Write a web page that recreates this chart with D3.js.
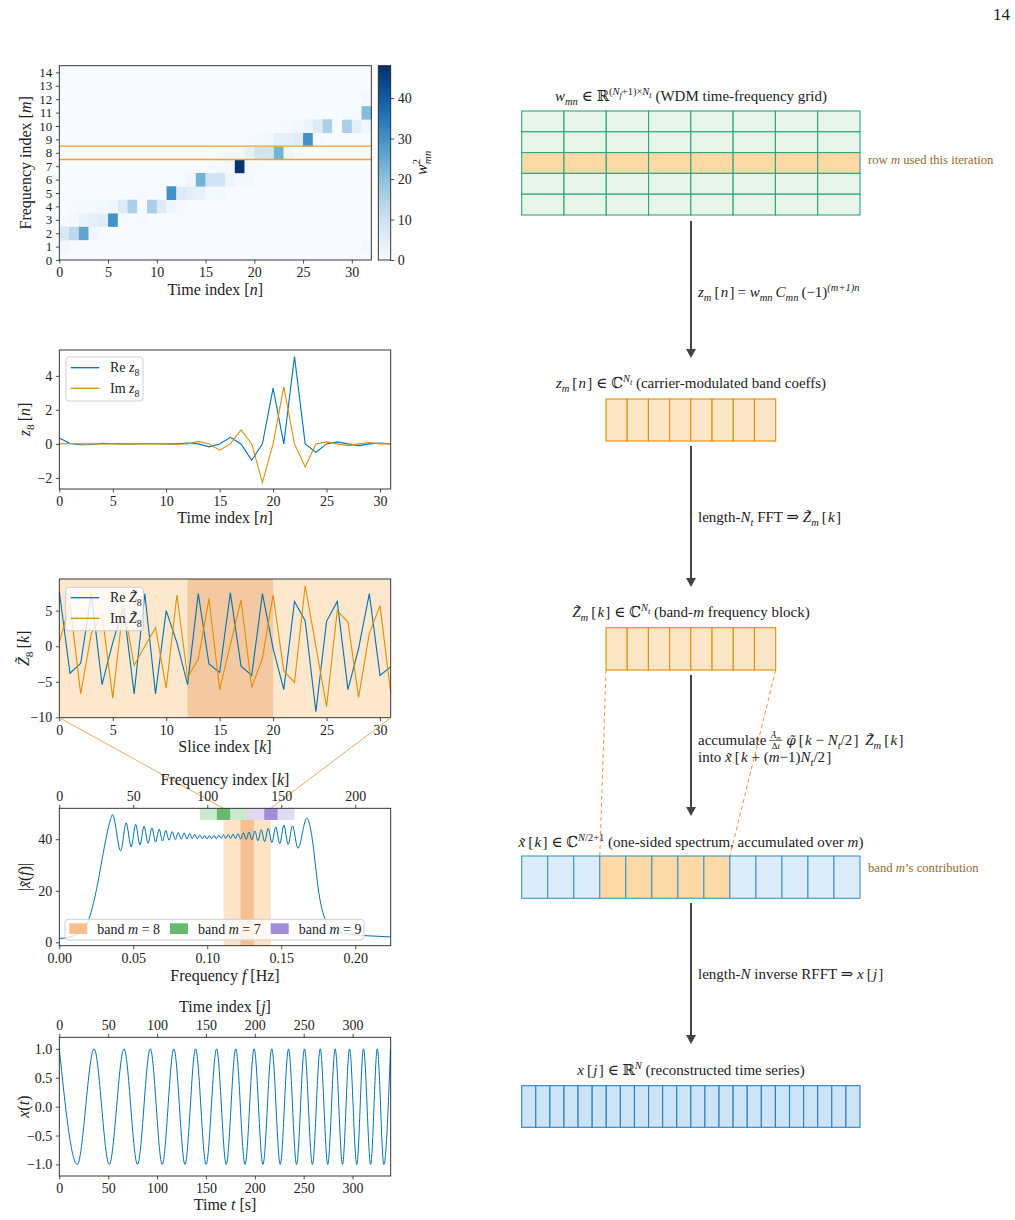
<!DOCTYPE html>
<html>
<head>
<meta charset="utf-8">
<script src="https://cdn.jsdelivr.net/npm/d3@7"></script>
<style>
  body { margin: 0; background: #fff; }
  text { font-family: "Liberation Serif", "DejaVu Serif", serif; }
</style>
</head>
<body>
<svg id="fig" width="1015" height="1220"></svg>
<script>
// ---- data ----
// WDM power w_mn^2 : [n, m, value] (all other cells ~0)
const heatCells = [
  [0,1,1.5],[31,1,1.0],
  [0,2,7],[1,2,13],[2,2,26],[3,2,2],[4,2,0.5],
  [1,3,1],[2,3,3.5],[3,3,4.5],[4,3,5.5],[5,3,30],[6,3,0.8],[8,3,0.8],
  [1,4,0.5],[2,4,0.8],[3,4,1],[4,4,1],[5,4,2],[6,4,6],[7,4,16],[8,4,0.3],[9,4,16],[10,4,6],[11,4,2],[12,4,0.8],
  [8,5,0.5],[11,5,30],[12,5,6],[13,5,4.5],[14,5,3.5],[15,5,1],[16,5,1],
  [12,6,0.5],[13,6,2],[14,6,23],[15,6,9],[16,6,9],[17,6,3],[18,6,1],[19,6,1],
  [15,7,0.5],[16,7,0.8],[17,7,1.5],[18,7,47.5],[19,7,1],[20,7,0.5],
  [16,8,0.5],[17,8,1],[18,8,1],[19,8,4],[20,8,9],[21,8,9],[22,8,23],[23,8,2],[24,8,0.5],
  [19,9,0.5],[20,9,0.8],[21,9,1.5],[22,9,4],[23,9,4.5],[24,9,5.5],[25,9,30],[26,9,0.8],
  [22,10,0.5],[23,10,0.8],[24,10,1.5],[25,10,2.5],[26,10,6],[27,10,16],[28,10,0.3],[29,10,16],[30,10,5],[31,10,2],
  [29,11,0.5],[30,11,0.5],[31,11,21],
  [31,12,1]
];
const heatXTicks = [0, 5, 10, 15, 20, 25, 30];
const heatYTicks = d3.range(0, 15);
const cbarTicks = [0, 10, 20, 30, 40];

// z_8[n]
const zRe = [0.35,0.02,-0.05,-0.03,0.03,0.01,0,0,0.01,0.01,0,0,0.05,0,-0.17,0,0.39,0,-0.96,0,3.28,0,5.14,0,-0.49,0,0.12,0,-0.1,0,0.05,0];
const zIm = [0,0.02,0,0,0,0,0,0,0,0,0,-0.02,0,0.15,0,-0.37,0,0.82,0,-2.27,0,3.35,0,-1.35,0,0.12,0,-0.1,0,0.08,0,0];

// Z~_8[k]
const ZRe = [7.7,-3.8,-2.4,7.4,-5.4,0.5,5.6,-6.7,7.4,-6.7,5.0,0.5,-5.4,7.4,-2.5,-3.7,7.5,-2.8,-4.1,7.4,-0.3,-6.1,6.3,3.6,-9.2,3.5,6.3,-6.1,-0.3,7.4,-4.1,-2.9];
const ZIm = [0.5,6.0,-6.7,1.8,4.5,-7.3,5.8,-2.7,0.0,2.6,-5.9,7.2,-4.4,-1.8,6.7,-6.1,0.2,6.5,-5.8,-1.7,7.2,-3.5,-5.1,8.5,0.0,-8.5,5.0,3.4,-7.2,1.8,5.7,-6.5];
const ZCore = [12, 20];

// |x~(f)| : frequency index k and magnitude, read at extrema and along the edges
const specK = [0,5,10,14,17,20,23,26,29,32,34,36,
  41.5,45.2,48.6,51.6,54.5,57.3,60.0,62.6,65.1,67.5,69.8,72.0,74.2,76.3,78.4,80.4,82.4,84.4,86.3,88.1,89.9,91.6,93.3,95.0,96.6,98.2,99.8,
  101.4,103.0,104.6,106.2,107.8,109.4,111.0,112.6,114.2,115.8,117.4,119.1,120.8,122.6,124.4,126.3,128.2,130.2,132.2,134.3,136.5,138.8,141.2,143.7,146.3,149.0,151.8,154.7,157.6,161.3,167.3,
  169.5,171.5,173.5,175.5,177.5,180,183,187,192,200,210,224];
const specV = [1.5,1.8,2.6,3.8,5.5,9,15,23,32.5,41.5,46.5,49.5,
  35.5,46.3,37.0,45.8,37.8,45.0,38.4,44.4,38.9,43.9,39.3,43.4,39.6,43.0,39.8,42.7,40.0,42.4,40.1,42.2,40.2,41.9,40.2,41.7,40.2,41.5,40.1,
  41.4,40.2,41.5,40.2,41.6,40.3,41.7,40.3,41.8,40.3,42.0,40.2,42.2,40.1,42.5,39.9,42.8,39.7,43.2,39.4,43.7,39.1,44.2,38.7,44.8,38.3,45.5,38.0,45.2,36.5,48.2,
  45,38,28,19,13,8.5,6,4.5,3.6,2.9,2.5,2.1];
// bands: [label m, centre k], full half-width 16, core half-width 4.5
const bandCentres = [[8, 127], [7, 111], [9, 143]];
const bandHalf = 16, coreHalf = 4.5;
const specFTicks = [0, 0.05, 0.10, 0.15, 0.20];
const specKTicks = [0, 50, 100, 150, 200];

// x(t): times of successive extrema and their values
const xtT = [0,18.4,35.6,51.1,66.2,80.0,93.1,105.3,117.2,128.6,139.4,150.2,160.9,170.8,180.5,190.0,199.3,208.3,217.4,226.0,234.5,242.7,250.8,258.9,266.9,274.6,282.2,289.7,296.9,304.3,311.2,318.5,325.3,332.0,338.8];
const xtV = [1,-1,1,-1,1,-1,1,-1,1,-1,1,-1,1,-1,1,-1,1,-1,1,-1,1,-1,1,-1,1,-1,1,-1,1,-1,1,-1,1,-1,1];
const tTicks = [0, 50, 100, 150, 200, 250, 300];

// diagram cells
const gridCols = 8, gridRows = 5, activeRow = 2;
const blockCells = 8;
const specCells = 13, bandCells = [3, 4, 5, 6, 7];
const timeCells = 24;

// ---- drawing ----
const FONT = '"Liberation Serif","DejaVu Serif",serif';
const INK = "#222";
const BLUE = "#0173B2", ORANGE = "#DE8F05";
const TICK = 14, LAB = 16, RT = 15;
const TS = "\u2009", HS = "\u200A"; // thin / hair spaces for math spacing
const svg = d3.select("#fig");
svg.append("rect").attr("width", 1015).attr("height", 1220).attr("fill", "#fff");

function rich(parent, x, y, segs, o = {}) {
  const size = o.size || RT;
  const t = parent.append("text")
    .attr("x", x).attr("y", y)
    .attr("font-size", size)
    .attr("fill", o.fill || INK)
    .attr("text-anchor", o.anchor || "start")
    .style("white-space", "pre");
  if (o.rotate) t.attr("transform", `rotate(-90,${x},${y})`);
  const lv = { "": [0, 1], b: [0.28, 0.7], p: [-0.42, 0.7], q: [-0.22, 0.55] };
  let cur = 0;
  segs.forEach(([s, st = "", dx]) => {
    const key = st.includes("q") ? "q" : st.includes("b") ? "b" : st.includes("p") ? "p" : "";
    const [off, sc] = lv[key];
    const ts = t.append("tspan").text(s)
      .attr("dy", ((off - cur) * size).toFixed(2))
      .attr("font-size", size * sc);
    if (dx) ts.attr("dx", dx);
    cur = off;
    if (st.includes("i")) ts.attr("font-style", "italic");
    if (st.includes("d")) ts.attr("font-family", '"DejaVu Serif",serif').attr("font-size", size * sc * 0.9);
  });
  return t;
}

function axis(gen, tx, ty, size = TICK) {
  const g = svg.append("g").attr("transform", `translate(${tx},${ty})`)
    .call(gen.tickSize(3.5).tickPadding(3.5));
  g.attr("font-family", FONT).attr("font-size", size);
  g.select(".domain").remove();
  g.selectAll(".tick line").attr("stroke", INK).attr("stroke-width", 0.8);
  g.selectAll(".tick text").attr("fill", INK);
  return g;
}

function frame(x0, y0, x1, y1) {
  svg.append("rect").attr("x", x0).attr("y", y0).attr("width", x1 - x0).attr("height", y1 - y0)
    .attr("fill", "none").attr("stroke", INK).attr("stroke-width", 0.9);
}

const L = 59.3, R = 390.7;

// Panel 1: heatmap
{
  const T = 65.7, B = 260, HR = 371.3;
  const x = d3.scaleLinear().domain([0, 32]).range([L, HR]);
  const y = d3.scaleLinear().domain([0, 14.5]).range([B, T]);
  const color = d3.scaleSequential(d3.interpolateBlues).domain([0, 48]);
  svg.append("rect").attr("x", L).attr("y", T).attr("width", HR - L).attr("height", B - T).attr("fill", color(0));
  svg.append("g").selectAll("rect").data(heatCells).join("rect")
    .attr("x", d => x(d[0])).attr("width", d => x(d[0] + 1) - x(d[0]) + 0.3)
    .attr("y", d => y(d[1] + 0.5)).attr("height", d => y(d[1] - 0.5) - y(d[1] + 0.5) + 0.3)
    .attr("fill", d => color(d[2]));
  [7.5, 8.5].forEach(v => svg.append("line").attr("x1", L).attr("x2", HR).attr("y1", y(v)).attr("y2", y(v))
    .attr("stroke", "#f7a21e").attr("stroke-width", 1.4));
  frame(L, T, HR, B);
  axis(d3.axisBottom(x).tickValues(heatXTicks).tickFormat(d3.format("d")), 0, B);
  axis(d3.axisLeft(y).tickValues(heatYTicks).tickFormat(d3.format("d")), L, 0, 13);
  rich(svg, (L + HR) / 2, 295, [["Time index [", ""], ["n", "i"], ["]", ""]], { size: LAB, anchor: "middle" });
  rich(svg, 31, (T + B) / 2, [["Frequency index [", ""], ["m", "i"], ["]", ""]], { size: LAB, anchor: "middle", rotate: true });

  // colorbar
  const cx0 = 378.3, cx1 = 390.7;
  const cy = d3.scaleLinear().domain([0, 48]).range([B, T]);
  const grad = svg.append("defs").append("linearGradient").attr("id", "cb")
    .attr("x1", 0).attr("y1", 1).attr("x2", 0).attr("y2", 0);
  d3.range(0, 1.0001, 0.05).forEach(s => grad.append("stop").attr("offset", s).attr("stop-color", color(s * 48)));
  svg.append("rect").attr("x", cx0).attr("y", T).attr("width", cx1 - cx0).attr("height", B - T).attr("fill", "url(#cb)");
  frame(cx0, T, cx1, B);
  axis(d3.axisRight(cy).tickValues(cbarTicks).tickFormat(d3.format("d")), cx1, 0);
  rich(svg, 427, (T + B) / 2, [["w", "i"], ["2", "p"], ["mn", "ib", -5.5]], { size: LAB, anchor: "middle", rotate: true });
}

// Panel 2: z_8[n]
{
  const T = 350, B = 489;
  const x = d3.scaleLinear().domain([0, 31]).range([L, R]);
  const y = d3.scaleLinear().domain([-2.65, 5.52]).range([B, T]);
  const line = d3.line().x((d, i) => x(i)).y(d => y(d));
  svg.append("path").attr("d", line(zRe)).attr("fill", "none").attr("stroke", BLUE).attr("stroke-width", 1.1);
  svg.append("path").attr("d", line(zIm)).attr("fill", "none").attr("stroke", ORANGE).attr("stroke-width", 1.1);
  frame(L, T, R, B);
  axis(d3.axisBottom(x).tickValues([0, 5, 10, 15, 20, 25, 30]).tickFormat(d3.format("d")), 0, B);
  axis(d3.axisLeft(y).tickValues([-2, 0, 2, 4]).tickFormat(d3.format("d")), L, 0);
  rich(svg, (L + R) / 2, 523, [["Time index [", ""], ["n", "i"], ["]", ""]], { size: LAB, anchor: "middle" });
  rich(svg, 30, (T + B) / 2, [["z", "i"], ["8", "b"], [TS + "[", ""], ["n", "i"], ["]", ""]], { size: LAB, anchor: "middle", rotate: true });
  // legend
  svg.append("rect").attr("x", 66).attr("y", 357).attr("width", 77).attr("height", 44).attr("rx", 3)
    .attr("fill", "#fff").attr("fill-opacity", 0.8).attr("stroke", "#cfcfcf");
  [[BLUE, 367.7, "Re "], [ORANGE, 388.3, "Im "]].forEach(([c, yy, lab]) => {
    svg.append("line").attr("x1", 70.7).attr("x2", 99.3).attr("y1", yy).attr("y2", yy).attr("stroke", c).attr("stroke-width", 1.3);
    rich(svg, 110, yy + 4.5, [[lab, ""], ["z", "i"], ["8", "b"]], { size: 14 });
  });
}

// Panel 3: Z~_8[k]
{
  const T = 579, B = 717.7;
  const x = d3.scaleLinear().domain([0, 31]).range([L, R]);
  const y = d3.scaleLinear().domain([-10.05, 9.45]).range([B, T]);
  svg.append("rect").attr("x", L).attr("y", T).attr("width", R - L).attr("height", B - T).attr("fill", "#fde7cd");
  svg.append("rect").attr("x", x(ZCore[0])).attr("y", T).attr("width", x(ZCore[1]) - x(ZCore[0])).attr("height", B - T).attr("fill", "#f4c8a0");
  const line = d3.line().x((d, i) => x(i)).y(d => y(d));
  svg.append("path").attr("d", line(ZRe)).attr("fill", "none").attr("stroke", BLUE).attr("stroke-width", 1.1);
  svg.append("path").attr("d", line(ZIm)).attr("fill", "none").attr("stroke", ORANGE).attr("stroke-width", 1.1);
  frame(L, T, R, B);
  axis(d3.axisBottom(x).tickValues([0, 5, 10, 15, 20, 25, 30]).tickFormat(d3.format("d")), 0, B);
  axis(d3.axisLeft(y).tickValues([-10, -5, 0, 5]).tickFormat(d3.format("d")), L, 0);
  rich(svg, (L + R) / 2, 752, [["Slice index [", ""], ["k", "i"], ["]", ""]], { size: LAB, anchor: "middle" });
  rich(svg, 29, (T + B) / 2, [["Z\u0303", "i"], ["8", "b"], [TS + "[", ""], ["k", "i"], ["]", ""]], { size: LAB, anchor: "middle", rotate: true });
  svg.append("rect").attr("x", 65.7).attr("y", 587.3).attr("width", 77.6).attr("height", 43.4).attr("rx", 3)
    .attr("fill", "#fff").attr("fill-opacity", 0.8).attr("stroke", "#cfcfcf");
  [[BLUE, 597.7, "Re "], [ORANGE, 618.3, "Im "]].forEach(([c, yy, lab]) => {
    svg.append("line").attr("x1", 70.7).attr("x2", 99.3).attr("y1", yy).attr("y2", yy).attr("stroke", c).attr("stroke-width", 1.3);
    rich(svg, 110, yy + 4.5, [[lab, ""], ["Z\u0303", "i"], ["8", "b"]], { size: 14 });
  });
}

// Panel 4: spectrum
{
  const T = 808.3, B = 945.7;
  const k = d3.scaleLinear().domain([0, 224]).range([L, R]);
  const f = d3.scaleLinear().domain([0, 0.224]).range([L, R]);
  const y = d3.scaleLinear().domain([-1.3, 52]).range([B, T]);
  // connectors from the Z~ panel
  const c8 = bandCentres[0][1];
  [[L, c8 - bandHalf], [R, c8 + bandHalf]].forEach(([x0, kk]) =>
    svg.append("line").attr("x1", x0).attr("y1", 717.7).attr("x2", k(kk)).attr("y2", T)
      .attr("stroke", "#e8a050").attr("stroke-width", 0.9));
  // band m=8 shading
  svg.append("rect").attr("x", k(c8 - bandHalf)).attr("y", T).attr("width", k(c8 + bandHalf) - k(c8 - bandHalf)).attr("height", B - T).attr("fill", "#fde4c6");
  svg.append("rect").attr("x", k(c8 - coreHalf)).attr("y", T).attr("width", k(c8 + coreHalf) - k(c8 - coreHalf)).attr("height", B - T).attr("fill", "#f5c090");
  // neighbour bands on a strip at the top
  const strip = [[bandCentres[1][1], "#cbe9cf", "#66ba6f"], [bandCentres[2][1], "#e2d9f5", "#9e8fd8"]];
  strip.forEach(([c, light]) => {
    svg.append("rect").attr("x", k(c - bandHalf)).attr("y", y(52)).attr("width", k(c + bandHalf) - k(c - bandHalf)).attr("height", y(47.5) - y(52)).attr("fill", light);
  });
  strip.forEach(([c, light, dark]) => {
    svg.append("rect").attr("x", k(c - coreHalf)).attr("y", y(52)).attr("width", k(c + coreHalf) - k(c - coreHalf)).attr("height", y(47.5) - y(52)).attr("fill", dark);
  });
  const line = d3.line().x((d, i) => k(specK[i])).y(d => y(d)).curve(d3.curveMonotoneX);
  svg.append("path").attr("d", line(specV)).attr("fill", "none").attr("stroke", BLUE).attr("stroke-width", 1.0);
  frame(L, T, R, B);
  axis(d3.axisBottom(f).tickValues(specFTicks).tickFormat(d3.format(".2f")), 0, B);
  axis(d3.axisTop(k).tickValues(specKTicks).tickFormat(d3.format("d")), 0, T);
  axis(d3.axisLeft(y).tickValues([0, 20, 40]).tickFormat(d3.format("d")), L, 0);
  rich(svg, (L + R) / 2, 981, [["Frequency ", ""], ["f", "i"], [" [Hz]", ""]], { size: LAB, anchor: "middle" });
  rich(svg, (L + R) / 2, 784.5, [["Frequency index [", ""], ["k", "i"], ["]", ""]], { size: LAB, anchor: "middle" });
  rich(svg, 30, (T + B) / 2, [["|", ""], ["x\u0303", "i"], ["(", ""], ["f", "i"], [")|", ""]], { size: LAB, anchor: "middle", rotate: true });
  // legend
  svg.append("rect").attr("x", 65).attr("y", 919.3).attr("width", 299).attr("height", 20.7).attr("rx", 3)
    .attr("fill", "#fff").attr("fill-opacity", 0.8).attr("stroke", "#cfcfcf");
  const legItems = [[bandCentres[0][0], "#f6bf8c", 69.3], [bandCentres[1][0], "#66b96f", 170], [bandCentres[2][0], "#9d8ed7", 270.7]];
  legItems.forEach(([m, c, x0]) => {
    svg.append("rect").attr("x", x0).attr("y", 923.3).attr("width", 18).attr("height", 10.7).attr("fill", c);
    rich(svg, x0 + 28, 934, [["band ", ""], ["m", "i"], [" = " + m, ""]], { size: 14 });
  });
}

// Panel 5: x(t)
{
  const T = 1037.3, B = 1176;
  const t = d3.scaleLinear().domain([0, 339]).range([L, R]);
  const y = d3.scaleLinear().domain([-1.2, 1.2]).range([B, T]);
  const line = d3.line().x((d, i) => t(xtT[i])).y(d => y(d)).curve(d3.curveMonotoneX);
  svg.append("path").attr("d", line(xtV)).attr("fill", "none").attr("stroke", BLUE).attr("stroke-width", 1.0);
  frame(L, T, R, B);
  axis(d3.axisBottom(t).tickValues(tTicks).tickFormat(d3.format("d")), 0, B);
  axis(d3.axisTop(t).tickValues(tTicks).tickFormat(d3.format("d")), 0, T);
  axis(d3.axisLeft(y).tickValues([-1, -0.5, 0, 0.5, 1]).tickFormat(d3.format(".1f")), L, 0);
  rich(svg, (L + R) / 2, 1209.5, [["Time ", ""], ["t", "i"], [" [s]", ""]], { size: LAB, anchor: "middle" });
  rich(svg, (L + R) / 2, 1012, [["Time index [", ""], ["j", "i"], ["]", ""]], { size: LAB, anchor: "middle" });
  rich(svg, 29, (T + B) / 2, [["x", "i"], ["(", ""], ["t", "i"], [")", ""]], { size: LAB, anchor: "middle", rotate: true });
}

// ---- right-hand flow diagram ----
const CX = 691, BROWN = "#96692a";
function cellRow(x0, x1, y0, y1, n, fill, stroke, sw = 1) {
  const s = d3.scaleLinear().domain([0, n]).range([x0, x1]);
  svg.append("g").selectAll("rect").data(d3.range(n)).join("rect")
    .attr("x", i => s(i)).attr("y", y0).attr("width", s(1) - s(0)).attr("height", y1 - y0)
    .attr("fill", typeof fill === "function" ? fill : () => fill).attr("stroke", stroke).attr("stroke-width", sw);
  return s;
}
function arrow(y0, y1) {
  svg.append("line").attr("x1", CX).attr("x2", CX).attr("y1", y0).attr("y2", y1 - 8).attr("stroke", "#444").attr("stroke-width", 2);
  svg.append("path").attr("d", `M${CX - 5},${y1 - 9}L${CX + 5},${y1 - 9}L${CX},${y1}Z`).attr("fill", "#444");
}
const br = s => [TS + "[" + HS, ""];      // opening math bracket
const bc = [HS + "]", ""];                 // closing math bracket

// WDM grid
rich(svg, CX, 101, [["w", "i"], ["mn", "ib"], [" ∈ ℝ", ""], ["(", "p"], ["N", "ip"], ["f", "iq"], ["+1)×", "p"], ["N", "ip"], ["t", "iq"], [" (WDM time-frequency grid)", ""]], { anchor: "middle" });
{
  const ys = d3.scaleLinear().domain([0, gridRows]).range([111, 215]);
  d3.range(gridRows).forEach(r => cellRow(521.7, 860, ys(r), ys(r + 1), gridCols, r === activeRow ? "#fdd9a6" : "#e8f5e9", "#2fa57e", 1.1));
  rich(svg, 868, 164, [["row ", ""], ["m", "i"], [" used this iteration", ""]], { size: 12.7, fill: BROWN });
}
arrow(221, 358);
rich(svg, 698, 297, [["z", "i"], ["m", "ib"], br(), ["n", "i"], [HS + "]" + TS + "= ", ""], ["w", "i"], ["mn", "ib"], [TS, ""], ["C", "i"], ["mn", "ib"], [TS + "(−1)", ""], ["(m+1)n", "ip"]]);

rich(svg, CX, 388, [["z", "i"], ["m", "ib"], br(), ["n", "i"], [HS + "] ∈ ℂ", ""], ["N", "ip"], ["t", "iq"], [" (carrier-modulated band coeffs)", ""]], { anchor: "middle" });
cellRow(606, 775.7, 399, 441, blockCells, "#fde6c6", ORANGE, 1.1);
arrow(446, 587);
rich(svg, 698, 522, [["length-", ""], ["N", "i"], ["t", "ib"], [" FFT ⇒ ", ""], ["Z\u0303", "i"], ["m", "ib"], br(), ["k", "i"], bc]);

rich(svg, CX, 617, [["Z\u0303", "i"], ["m", "ib"], br(), ["k", "i"], [HS + "] ∈ ℂ", ""], ["N", "ip"], ["t", "iq"], [" (band-", ""], ["m", "i"], [" frequency block)", ""]], { anchor: "middle" });
cellRow(606, 775.7, 627.7, 670, blockCells, "#fde6c6", ORANGE, 1.1);
arrow(675, 816);
{
  const c1 = rich(svg, 698, 745, [["accumulate", ""]]);
  const fx0 = 698 + c1.node().getComputedTextLength() + 3;
  rich(svg, fx0 + 6.5, 737.5, [["Ã", "i"], ["m", "ib"]], { size: 9, anchor: "middle" });
  rich(svg, fx0 + 6.5, 748.5, [["Δ", ""], ["t", "i"]], { size: 9, anchor: "middle" });
  svg.append("line").attr("x1", fx0).attr("x2", fx0 + 13).attr("y1", 740.5).attr("y2", 740.5).attr("stroke", INK).attr("stroke-width", 0.6);
  rich(svg, fx0 + 17, 745, [["φ\u0303", "id"], br(), ["k", "i"], [" − ", ""], ["N", "i"], ["t", "ib"], ["/2" + HS + "]" + TS + " ", ""], ["Z\u0303", "i"], ["m", "ib"], br(), ["k", "i"], bc]);
  rich(svg, 698, 762, [["into ", ""], ["x\u0303", "i"], br(), ["k", "i"], [" + (", ""], ["m", "i"], ["−1)", ""], ["N", "i"], ["t", "ib"], ["/2" + HS + "]", ""]]);
}

rich(svg, CX, 847, [["x\u0303", "i"], br(), ["k", "i"], [HS + "] ∈ ℂ", ""], ["N", "ip"], ["/2+1", "p"], [" (one-sided spectrum, accumulated over ", ""], ["m", "i"], [")", ""]], { anchor: "middle" });
{
  const s = cellRow(521.7, 860, 856, 898.3, specCells, i => bandCells.includes(i) ? "#fdd9a6" : "#dcecfa", "#3c96c8", 1.1);
  // dashed mapping from the Z~ block into the spectrum
  [[606, bandCells[0]], [775.7, bandCells[bandCells.length - 1] + 1]].forEach(([x0, c]) =>
    svg.append("line").attr("x1", x0).attr("y1", 670).attr("x2", s(c)).attr("y2", 856)
      .attr("stroke", "#e8973a").attr("stroke-width", 1).attr("stroke-dasharray", "4,3"));
  rich(svg, 868, 872, [["band ", ""], ["m", "i"], ["’s contribution", ""]], { size: 12.7, fill: BROWN });
}
arrow(903, 1044);
rich(svg, 698, 979, [["length-", ""], ["N", "i"], [" inverse RFFT ⇒ ", ""], ["x", "i"], br(), ["j", "i"], bc]);

rich(svg, CX, 1075, [["x", "i"], br(), ["j", "i"], [HS + "] ∈ ℝ", ""], ["N", "ip"], [" (reconstructed time series)", ""]], { anchor: "middle" });
cellRow(521.7, 860, 1085.7, 1127.3, timeCells, "#cce3f8", "#2a7fc0", 1.1);

// page number
svg.append("text").attr("x", 1010).attr("y", 20).attr("text-anchor", "end").attr("font-size", 17).attr("fill", INK).text("14");
</script>
</body>
</html>
